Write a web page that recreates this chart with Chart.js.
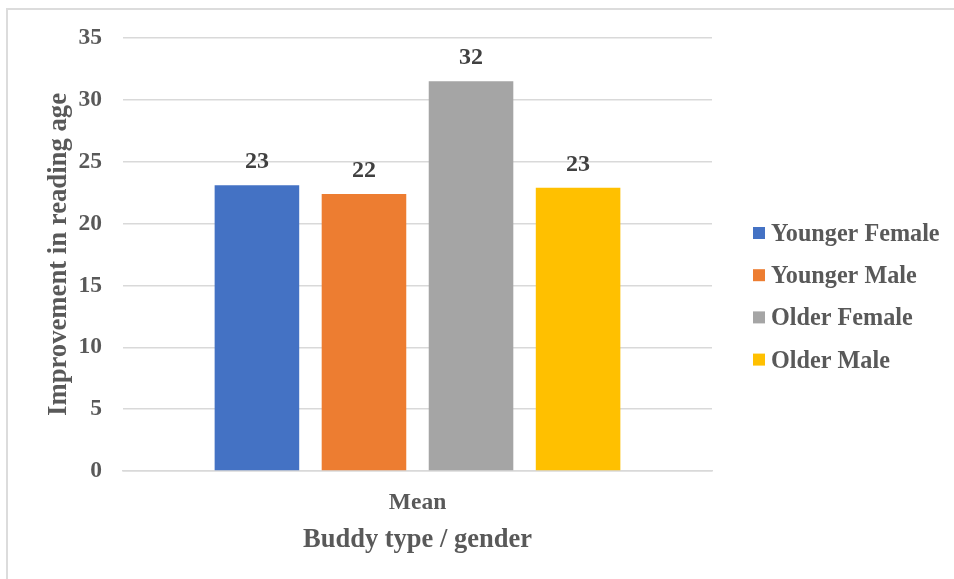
<!DOCTYPE html>
<html>
<head>
<meta charset="utf-8">
<script src="https://cdn.jsdelivr.net/npm/chart.js@4.4.1/dist/chart.umd.min.js"></script>
<style>
  html, body { margin: 0; padding: 0; background: #fff; }
  #wrap { position: relative; width: 954px; height: 579px; overflow: hidden; }
  #frame { position: absolute; left: 6px; top: 8px; width: 1000px; height: 700px;
           border: 2px solid #dcdcdc; box-sizing: border-box; }
  #c { position: absolute; left: 0; top: 0; }
</style>
</head>
<body>
<div id="wrap">
  <div id="frame"></div>
  <canvas id="c" width="954" height="579"></canvas>
</div>
<script>
// Mean improvement in reading age by buddy type / gender
const categories = ['Mean'];
const seriesNames = ['Younger Female', 'Younger Male', 'Older Female', 'Older Male'];
const seriesValues = [23.1, 22.4, 31.5, 22.9];
const seriesColors = ['#4472C4', '#ED7D31', '#A5A5A5', '#FFC000'];
const yTicks = [0, 5, 10, 15, 20, 25, 30, 35];
const xTitle = 'Buddy type / gender';
const yTitle = 'Improvement in reading age';

const FONT = "'Liberation Serif', 'Times New Roman', Times, serif";
const TEXT = '#595959';

// Rounded value written above each bar
const valueLabels = {
  id: 'valueLabels',
  afterDatasetsDraw(chart) {
    const ctx = chart.ctx;
    ctx.save();
    ctx.font = 'bold 24px ' + FONT;
    ctx.fillStyle = '#404040';
    ctx.textAlign = 'center';
    ctx.textBaseline = 'alphabetic';
    chart.data.datasets.forEach((ds, i) => {
      chart.getDatasetMeta(i).data.forEach((bar, j) => {
        ctx.fillText(String(Math.round(ds.data[j])), bar.x, bar.y - 17);
      });
    });
    ctx.restore();
  }
};

// Series key on the right, one row per dataset
const sideLegend = {
  id: 'sideLegend',
  afterDraw(chart) {
    const ctx = chart.ctx;
    const x0 = chart.chartArea.right + 41;
    const top = 233, step = 42.2, box = 12;
    ctx.save();
    ctx.font = 'bold 24.2px ' + FONT;
    ctx.textAlign = 'left';
    ctx.textBaseline = 'alphabetic';
    chart.data.datasets.forEach((ds, i) => {
      const cy = top + i * step;
      ctx.fillStyle = ds.backgroundColor;
      ctx.fillRect(x0, cy - box / 2, box, box);
      ctx.fillStyle = TEXT;
      ctx.fillText(ds.label, x0 + 18, cy + 8);
    });
    ctx.restore();
  }
};

const datasets = seriesNames.map((name, i) => ({
  label: name,
  data: [seriesValues[i]],
  backgroundColor: seriesColors[i],
  borderWidth: 0,
  categoryPercentage: 0.727,
  barPercentage: 0.79
}));

new Chart(document.getElementById('c'), {
  type: 'bar',
  data: { labels: categories, datasets },
  plugins: [valueLabels, sideLegend],
  options: {
    responsive: false,
    animation: false,
    layout: { padding: { left: 0, right: 242, top: 38, bottom: 0 } },
    plugins: {
      legend: { display: false },
      tooltip: { enabled: false }
    },
    scales: {
      x: {
        grid: { display: false },
        border: { display: true, color: '#d9d9d9', width: 1.5 },
        ticks: {
          color: TEXT,
          padding: 10,
          font: { family: FONT, size: 23.5, weight: 'bold' }
        },
        title: {
          display: true,
          text: xTitle,
          color: TEXT,
          padding: { top: 0, bottom: 23 },
          font: { family: FONT, size: 26.5, weight: 'bold' }
        },
        afterFit(scale) { scale.height = 108; }
      },
      y: {
        min: 0,
        max: 35,
        afterBuildTicks(scale) { scale.ticks = yTicks.map(v => ({ value: v })); },
        grid: { color: '#d9d9d9', lineWidth: 1.5, drawTicks: false },
        border: { display: false },
        ticks: {
          color: TEXT,
          padding: 21,
          font: { family: FONT, size: 23.5, weight: 'bold' }
        },
        title: {
          display: true,
          text: yTitle,
          color: TEXT,
          padding: { top: 43.5, bottom: 0 },
          font: { family: FONT, size: 26.7, weight: 'bold' }
        },
        afterFit(scale) { scale.width = 123; }
      }
    }
  }
});
</script>
</body>
</html>
